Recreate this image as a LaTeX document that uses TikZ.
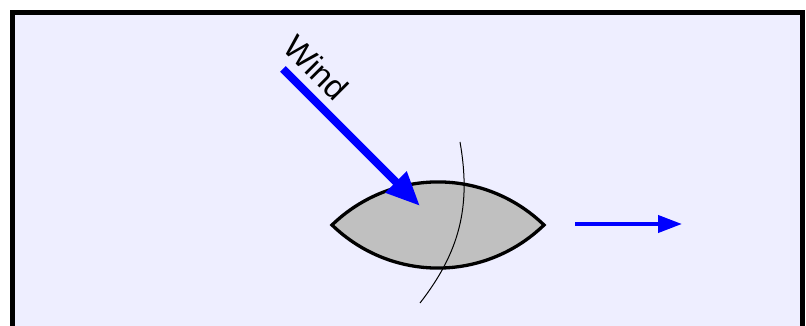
\documentclass[tikz,border=0pt]{standalone}
\usepackage{fontspec}
\setmainfont{Liberation Sans}
\usetikzlibrary{arrows.meta}
\definecolor{bgpanel}{RGB}{238,238,255}
\definecolor{hullgray}{RGB}{192,192,192}
\tikzset{
  frame/.style={draw=black, line width=5pt, fill=bgpanel},
  hull/.style={draw=black, line width=3.3pt, fill=hullgray, line join=miter},
  thinarc/.style={draw=black, line width=1pt},
  windarrow/.style={draw=blue, line width=8pt, -{Triangle[length=34pt,width=28pt]}},
  motion/.style={draw=blue, line width=4pt, -{Triangle[length=24pt,width=17pt]}},
  windlabel/.style={font=\fontsize{33}{37}\selectfont, inner sep=0pt, rotate=-45}
}
\begin{document}
\begin{tikzpicture}[x=1pt,y=1pt]
\useasboundingbox (0,0) rectangle (806,326);
\clip (0,0) rectangle (806,326);
\fill[white] (0,0) rectangle (806,326);
\path[frame] (12.5,313.5) rectangle (802,-20);
% hull
\coordinate (bow) at (544,101);
\coordinate (stern) at (332,101);
\path[hull] (stern) to[bend left=44] (bow) to[bend left=44] (stern) -- cycle;
% thin arc
\coordinate (arcA) at (460,184);
\coordinate (arcB) at (420,23);
\draw[thinarc] (arcA) to[bend left=24] (arcB);
% wind
\coordinate (windS) at (283,257);
\coordinate (windE) at (420,120);
\draw[windarrow] (windS) -- (windE);
\node[windlabel] (wind) at (316,258) {Wind};
% motion arrow
\coordinate (movS) at (575,102);
\coordinate (movE) at (682,102);
\draw[motion] (movS) -- (movE);
\end{tikzpicture}
\end{document}
